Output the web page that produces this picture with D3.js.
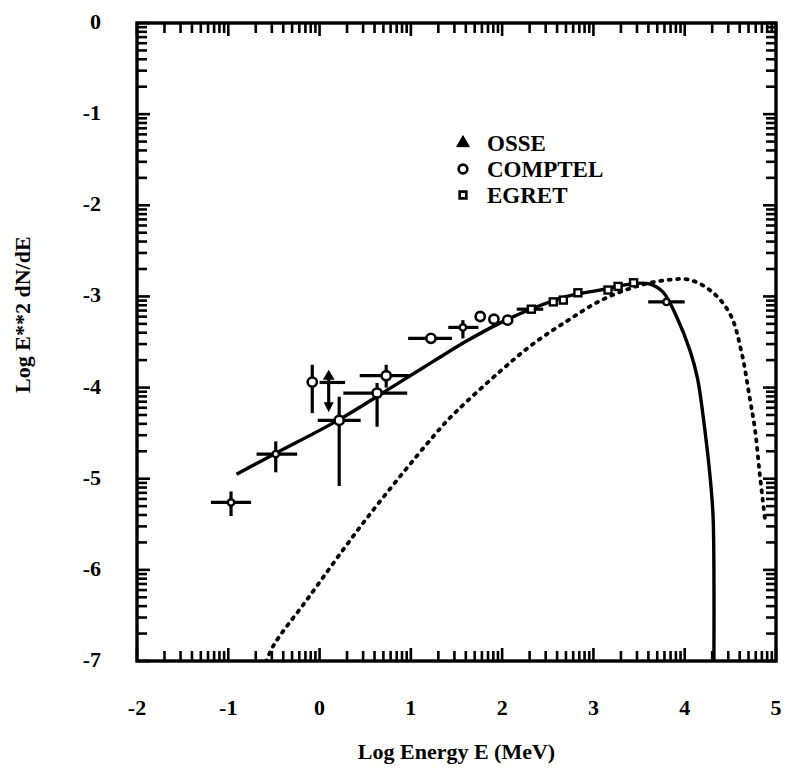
<!DOCTYPE html>
<html>
<head>
<meta charset="utf-8">
<script src="https://cdn.jsdelivr.net/npm/d3@7"></script>
<style>
  body { margin: 0; background: #fff; }
  svg { display: block; }
  text { font-family: "Liberation Serif", "Times New Roman", serif; font-weight: bold; fill: #000; }
</style>
</head>
<body>
<div id="chart"></div>
<script>
// axis ticks
var xTicks = [-2, -1, 0, 1, 2, 3, 4, 5];
var yTicks = [0, -1, -2, -3, -4, -5, -6, -7];

// model curves [log E, log E^2 dN/dE]
var solidCurve = [
  [-0.91, -4.95], [-0.48, -4.72], [0.2, -4.36], [0.88, -3.94], [1.25, -3.71],
  [1.61, -3.49], [1.98, -3.29], [2.34, -3.13], [2.71, -3.0], [3.07, -2.93],
  [3.44, -2.86], [3.6, -2.86], [3.76, -2.95], [3.91, -3.22], [4.06, -3.6],
  [4.14, -3.9], [4.22, -4.46], [4.28, -5.0], [4.31, -5.4], [4.32, -6.0],
  [4.32, -7.0]
];
var dashedCurve = [
  [-0.62, -7.1], [-0.51, -6.84], [-0.14, -6.33], [0.52, -5.43], [1.32, -4.45],
  [1.5, -4.26], [1.98, -3.82], [2.34, -3.52], [2.71, -3.27], [3.07, -3.05],
  [3.44, -2.9], [3.8, -2.82], [4.06, -2.82], [4.3, -2.95], [4.5, -3.2],
  [4.62, -3.6], [4.71, -4.1], [4.77, -4.46], [4.82, -4.93], [4.88, -5.45]
];

// measurements: e = log E, f = log flux, with error extents
var comptel = [
  {e: -0.08, f: -3.94, fLo: -4.28, fHi: -3.75},
  {e: 0.215, f: -4.36, eLo: -0.02, eHi: 0.45, fLo: -5.08, fHi: -4.10},
  {e: 0.63, f: -4.06, eLo: 0.26, eHi: 0.96, fLo: -4.43, fHi: -3.95},
  {e: 0.73, f: -3.87, eLo: 0.44, eHi: 0.99, fLo: -4.0, fHi: -3.75},
  {e: 1.22, f: -3.46, eLo: 0.97, eHi: 1.45},
  {e: 1.76, f: -3.22},
  {e: 1.91, f: -3.25},
  {e: 2.06, f: -3.26}
];
var crossPoints = [
  {e: -0.97, f: -5.26, eLo: -1.19, eHi: -0.75, fLo: -5.41, fHi: -5.14},
  {e: -0.48, f: -4.73, eLo: -0.69, eHi: -0.245, fLo: -4.93, fHi: -4.59},
  {e: 1.57, f: -3.34, eLo: 1.41, eHi: 1.74, fLo: -3.46, fHi: -3.26},
  {e: 3.8, f: -3.06, eLo: 3.6, eHi: 4.0}
];
var egret = [
  {e: 2.32, f: -3.14, eLo: 2.16, eHi: 2.45},
  {e: 2.56, f: -3.06},
  {e: 2.67, f: -3.04},
  {e: 2.83, f: -2.96},
  {e: 3.16, f: -2.93},
  {e: 3.27, f: -2.89},
  {e: 3.44, f: -2.85}
];
var osseLimits = [
  {e: 0.1, f: -3.9, eLo: 0.0, eHi: 0.28, fTo: -4.27}
];
var legendNames = ['OSSE', 'COMPTEL', 'EGRET'];

var W = 785, H = 778;
var margin = {top: 23, right: 9, bottom: 117, left: 137};
var width = W - margin.left - margin.right,
    height = H - margin.top - margin.bottom;

var svg = d3.select('#chart').append('svg')
    .attr('width', W)
    .attr('height', H);

var g = svg.append('g')
    .attr('transform', 'translate(' + margin.left + ',' + margin.top + ')');

var x = d3.scaleLinear().domain([-2, 5]).range([0, width]);
var y = d3.scaleLinear().domain([-7, 0]).range([height, 0]);

g.append('clipPath').attr('id', 'plotClip')
  .append('rect').attr('width', width).attr('height', height);

// log-spaced minor ticks inside every decade
function minorTicks(lo, hi) {
  var out = [];
  for (var d = lo; d < hi; d++) {
    for (var k = 2; k <= 9; k++) out.push(d + Math.log10(k));
  }
  return out;
}
var xMinor = minorTicks(-2, 5);
var yMinor = minorTicks(-7, 0);

var majorLen = 13, minorLen = 10;

var ticks = g.append('g')
    .attr('stroke', '#000')
    .attr('stroke-width', 2.6);

[0, height].forEach(function(y0) {
  var dir = y0 === 0 ? 1 : -1;
  ticks.selectAll(null).data(xMinor).enter().append('line')
    .attr('x1', function(d) { return x(d); }).attr('x2', function(d) { return x(d); })
    .attr('y1', y0).attr('y2', y0 + dir * minorLen);
  ticks.selectAll(null).data(xTicks).enter().append('line')
    .attr('x1', function(d) { return x(d); }).attr('x2', function(d) { return x(d); })
    .attr('y1', y0).attr('y2', y0 + dir * majorLen);
});
[0, width].forEach(function(x0) {
  var dir = x0 === 0 ? 1 : -1;
  ticks.selectAll(null).data(yMinor).enter().append('line')
    .attr('y1', function(d) { return y(d); }).attr('y2', function(d) { return y(d); })
    .attr('x1', x0).attr('x2', x0 + dir * minorLen);
  ticks.selectAll(null).data(yTicks).enter().append('line')
    .attr('y1', function(d) { return y(d); }).attr('y2', function(d) { return y(d); })
    .attr('x1', x0).attr('x2', x0 + dir * majorLen);
});

g.append('rect')
  .attr('width', width).attr('height', height)
  .attr('fill', 'none').attr('stroke', '#000').attr('stroke-width', 3.4);

// tick labels
g.selectAll('.xlab').data(xTicks).enter().append('text')
  .attr('class', 'xlab')
  .attr('x', function(d) { return x(d); })
  .attr('y', height + 54)
  .attr('text-anchor', 'middle')
  .style('font-size', '22px')
  .text(function(d) { return d; });

g.selectAll('.ylab').data(yTicks).enter().append('text')
  .attr('class', 'ylab')
  .attr('x', -36)
  .attr('y', function(d) { return y(d) + 6; })
  .attr('text-anchor', 'end')
  .style('font-size', '22px')
  .text(function(d) { return d; });

// axis titles
g.append('text')
  .attr('x', width / 2)
  .attr('y', height + 98)
  .attr('text-anchor', 'middle')
  .style('font-size', '22px')
  .text('Log Energy E (MeV)');

g.append('text')
  .attr('transform', 'translate(' + (-107) + ',' + y(-3.2) + ') rotate(-90)')
  .attr('text-anchor', 'middle')
  .style('font-size', '22px')
  .text('Log E**2 dN/dE');

// curves
var line = d3.line()
    .x(function(d) { return x(d[0]); })
    .y(function(d) { return y(d[1]); })
    .curve(d3.curveCatmullRom.alpha(0.5));

var plot = g.append('g').attr('clip-path', 'url(#plotClip)');

plot.append('path')
  .datum(solidCurve)
  .attr('d', line)
  .attr('fill', 'none')
  .attr('stroke', '#000')
  .attr('stroke-width', 3.4)
  .attr('stroke-linejoin', 'round');

plot.append('path')
  .datum(dashedCurve)
  .attr('d', line)
  .attr('fill', 'none')
  .attr('stroke', '#000')
  .attr('stroke-width', 3.8)
  .attr('stroke-linecap', 'round')
  .attr('stroke-dasharray', '2,6.5');

// error bars
function errorBars(sel, data) {
  var bars = sel.append('g').attr('stroke', '#000').attr('stroke-width', 3.2);
  bars.selectAll(null).data(data.filter(function(d) { return d.eLo !== undefined; }))
    .enter().append('line')
    .attr('x1', function(d) { return x(d.eLo); }).attr('x2', function(d) { return x(d.eHi); })
    .attr('y1', function(d) { return y(d.f); }).attr('y2', function(d) { return y(d.f); });
  bars.selectAll(null).data(data.filter(function(d) { return d.fLo !== undefined; }))
    .enter().append('line')
    .attr('x1', function(d) { return x(d.e); }).attr('x2', function(d) { return x(d.e); })
    .attr('y1', function(d) { return y(d.fLo); }).attr('y2', function(d) { return y(d.fHi); });
}
errorBars(plot, crossPoints);
errorBars(plot, comptel);
errorBars(plot, egret);

// OSSE upper limit
var osse = plot.append('g').attr('stroke', '#000').attr('stroke-width', 3.2);
osse.selectAll(null).data(osseLimits).enter().append('line')
  .attr('x1', function(d) { return x(d.eLo); }).attr('x2', function(d) { return x(d.eHi); })
  .attr('y1', function(d) { return y(d.f) + 4; }).attr('y2', function(d) { return y(d.f) + 4; });
osse.selectAll(null).data(osseLimits).enter().append('line')
  .attr('x1', function(d) { return x(d.e); }).attr('x2', function(d) { return x(d.e); })
  .attr('y1', function(d) { return y(d.f); }).attr('y2', function(d) { return y(d.fTo) - 8; });
plot.selectAll(null).data(osseLimits).enter().append('path')
  .attr('d', function(d) {
    var px = x(d.e), py = y(d.fTo);
    return 'M' + (px - 5) + ',' + (py - 10) + 'L' + (px + 5) + ',' + (py - 10) + 'L' + px + ',' + py + 'Z';
  })
  .attr('fill', '#000');
plot.selectAll(null).data(osseLimits).enter().append('path')
  .attr('d', d3.symbol().type(d3.symbolTriangle).size(60))
  .attr('transform', function(d) { return 'translate(' + x(d.e) + ',' + (y(d.f) - 2) + ')'; })
  .attr('fill', '#000');

// markers
plot.selectAll(null).data(crossPoints).enter().append('circle')
  .attr('cx', function(d) { return x(d.e); })
  .attr('cy', function(d) { return y(d.f); })
  .attr('r', 3.2)
  .attr('fill', '#fff').attr('stroke', '#000').attr('stroke-width', 2.4);

plot.selectAll(null).data(comptel).enter().append('circle')
  .attr('cx', function(d) { return x(d.e); })
  .attr('cy', function(d) { return y(d.f); })
  .attr('r', 4.6)
  .attr('fill', '#fff').attr('stroke', '#000').attr('stroke-width', 2.6);

plot.selectAll(null).data(egret).enter().append('rect')
  .attr('x', function(d) { return x(d.e) - 3.5; })
  .attr('y', function(d) { return y(d.f) - 3.5; })
  .attr('width', 7).attr('height', 7)
  .attr('fill', '#fff').attr('stroke', '#000').attr('stroke-width', 2.4);

// legend
var legend = svg.append('g').attr('transform', 'translate(463,143)');
var rows = legend.selectAll('g').data(legendNames).enter().append('g')
  .attr('transform', function(d, i) { return 'translate(0,' + (i * 26) + ')'; });
rows.append('path')
  .attr('d', function(d, i) {
    if (i === 0) return d3.symbol().type(d3.symbolTriangle).size(70)();
    if (i === 1) return d3.symbol().type(d3.symbolCircle).size(60)();
    return d3.symbol().type(d3.symbolSquare).size(45)();
  })
  .attr('fill', function(d, i) { return i === 0 ? '#000' : '#fff'; })
  .attr('stroke', '#000')
  .attr('stroke-width', function(d, i) { return i === 0 ? 1 : 2.6; });
rows.append('text')
  .attr('x', 24)
  .attr('y', 8)
  .style('font-size', '23px')
  .text(function(d) { return d; });
</script>
</body>
</html>
